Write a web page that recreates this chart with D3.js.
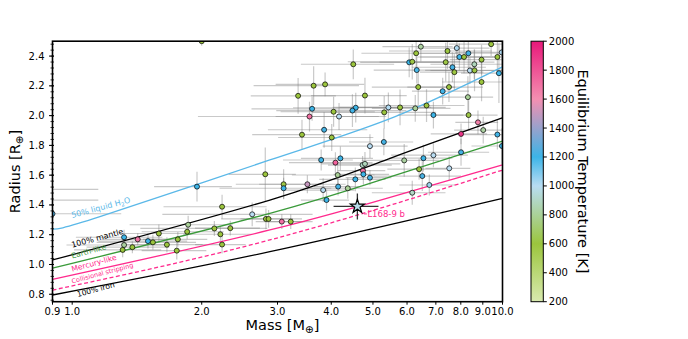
<!DOCTYPE html>
<html><head><meta charset="utf-8">
<script src="https://cdn.jsdelivr.net/npm/d3@7"></script>
<style>body{margin:0;background:#fff}svg{display:block;font-family:"DejaVu Sans",sans-serif}</style>
</head><body><svg id="c" width="688" height="339"></svg>
<script>
// ---------- data ----------
const xTickValues = [0.9, 1, 2, 3, 4, 5, 6, 7, 8, 9, 10];
const yTickValues = [0.8, 1.0, 1.2, 1.4, 1.6, 1.8, 2.0, 2.2, 2.4];
const cbarTickValues = [200, 400, 600, 800, 1000, 1200, 1400, 1600, 1800, 2000];
const cmapTemps = [200, 600, 1000, 1200, 1600, 2000];
const cmapColors = ["#d9eaaf", "#9bc53d", "#b9ddf3", "#3cb4e7", "#f48fb1", "#e8187a"];

const waterMass = [0.9, 1.16, 2.88, 5.63, 10];
const waterRadius = [1.237, 1.321, 1.702, 1.993, 2.327];
const mantleMass = [0.9, 2.88, 5.48, 10];
const mantleRadius = [1.03, 1.433, 1.713, 1.985];
const earthMass = [0.9, 2.88, 5.48, 10];
const earthRadius = [0.975, 1.344, 1.589, 1.829];
const mercuryMass = [0.9, 2.88, 6.26, 10];
const mercuryRadius = [0.90, 1.232, 1.50, 1.67];
const strippingMass = [0.9, 2.88, 10];
const strippingRadius = [0.828, 1.165, 1.634];
const ironMass = [0.9, 2.88, 10];
const ironRadius = [0.795, 1.086, 1.444];

const planetMass = [6.30,6.46,6.07,6.17,6.32,7.45,7.83,8.33,7.94,8.14,7.38,7.65,7.73,8.60,8.40,8.61,8.94,9.41,9.96,9.73,9.81,6.37,7.51,7.26,8.94,8.31,8.34,8.77,9.02,8.01,9.73,9.97,8.01,6.91,6.55,5.91,6.40,7.52,6.51,6.76,6.17,6.91,6.66,6.27,5.78,5.43,5.31,5.30,4.92,4.79,4.50,4.56,4.48,4.17,4.05,3.61,3.56,3.64,3.87,3.35,3.85,3.42,4.01,3.79,4.20,4.09,4.73,4.79,4.74,4.75,4.92,4.55,4.14,4.15,4.37,3.83,3.90,3.52,3.10,3.10,3.07,3.22,1.95,2.81,2.23,2.62,2.82,2.86,1.86,2.14,2.33,1.85,1.59,2.21,1.32,1.42,1.50,1.54,1.76,1.32,1.38,1.31,1.66,2.23,1.75,2.00,0.90,0.60,0.70];
const planetMassErr = [1.6,1.2,1.4,1.8,1.3,2.0,1.5,1.9,1.6,1.7,2.2,1.5,1.3,1.8,1.6,2.0,1.4,1.9,2.2,1.5,1.8,1.4,1.5,1.1,1.7,1.2,1.4,1.0,1.3,1.2,1.6,1.5,1.3,1.4,1.1,1.2,1.0,0.9,1.5,1.0,1.2,1.2,1.5,1.3,1.6,1.4,1.7,0.9,1.1,1.2,1.1,1.3,1.5,1.2,1.0,1.0,1.6,1.0,0.9,0.75,1.0,0.8,1.0,0.7,0.8,0.9,0.8,1.0,0.6,0.7,0.6,0.8,0.9,0.5,0.9,0.7,0.5,0.8,0.7,0.9,0.4,0.4,0.4,0.5,0.6,1.0,0.6,0.4,0.5,0.7,0.4,0.4,0.3,0.4,0.3,0.25,0.35,0.4,0.3,0.35,0.3,0.3,0.35,0.3,0.3,0.85,0.4,0.55,0.45];
const planetRadius = [2.419,2.463,2.358,2.362,2.306,2.434,2.454,2.419,2.394,2.394,2.359,2.325,2.292,2.345,2.303,2.304,2.376,2.480,2.425,2.394,2.285,2.192,2.192,2.164,2.226,2.124,2.004,1.955,1.903,1.877,1.873,1.796,1.754,1.734,1.714,1.699,1.640,1.646,1.594,1.534,1.482,2.004,2.068,2.049,2.055,2.055,2.022,1.823,1.795,2.135,2.345,2.053,2.034,1.994,2.026,2.046,1.994,2.201,2.210,2.133,1.905,1.872,1.853,1.702,1.713,1.684,1.668,1.676,1.630,1.606,1.583,1.572,1.601,1.523,1.512,1.500,1.433,1.539,1.539,1.512,1.288,1.288,1.523,1.606,1.388,1.337,1.306,1.306,1.267,1.242,1.244,1.220,1.208,1.203,1.183,1.169,1.157,1.149,1.169,1.131,1.116,1.098,1.133,1.134,1.093,2.500,1.341,1.505,1.433];
const planetRadiusErr = [0.12,0.10,0.10,0.12,0.09,0.12,0.08,0.10,0.09,0.11,0.13,0.10,0.12,0.10,0.09,0.14,0.10,0.08,0.15,0.12,0.20,0.12,0.10,0.09,0.13,0.14,0.10,0.08,0.09,0.07,0.10,0.12,0.09,0.08,0.09,0.11,0.07,0.08,0.10,0.07,0.08,0.09,0.11,0.09,0.12,0.10,0.11,0.09,0.08,0.12,0.10,0.10,0.11,0.09,0.10,0.08,0.10,0.13,0.08,0.12,0.12,0.10,0.09,0.07,0.08,0.07,0.06,0.08,0.06,0.07,0.05,0.08,0.09,0.06,0.07,0.08,0.07,0.06,0.10,0.07,0.05,0.05,0.10,0.18,0.08,0.08,0.07,0.06,0.06,0.05,0.05,0.05,0.06,0.05,0.05,0.04,0.05,0.05,0.05,0.05,0.04,0.05,0.05,0.06,0.06,0.03,0.04,0.04,0.04];
const planetTeq = [600,820,1200,620,1180,610,1020,1210,1190,600,620,1220,580,880,1000,610,600,590,1020,600,1200,600,610,1210,600,800,620,1650,820,1900,1210,1200,1220,1000,1200,820,600,1000,1230,1050,900,1200,600,800,610,1010,600,1220,1000,600,600,1200,1210,1000,600,1200,1700,600,600,600,1220,600,600,1200,1200,1750,900,880,1700,1200,1220,1200,800,1220,800,1000,1200,1500,620,1200,1700,600,1200,600,600,1000,600,600,800,600,600,600,600,600,1200,1700,1200,600,600,820,600,600,600,600,600,600,1250,1200,1200];

const targetName = "L168-9 b";
const targetMass = [4.60], targetMassErr = [0.55], targetRadius = [1.39], targetRadiusErr = [0.087], targetTeq = [981];

// ---------- layout ----------
const svg = d3.select("#c");
const L = 52.5, R = 502.5, T = 41.2, B = 301.7;
const x = d3.scaleLog().domain([0.9, 10]).range([L, R]);
const y = d3.scaleLinear().domain([0.75, 2.5]).range([B, T]);
const color = d3.scaleLinear().domain(cmapTemps).range(cmapColors).clamp(true);

svg.append("defs").append("clipPath").attr("id", "clip")
  .append("rect").attr("x", L).attr("y", T).attr("width", R - L).attr("height", B - T);
const plot = svg.append("g").attr("clip-path", "url(#clip)");

// error bars
const eb = plot.append("g").attr("stroke", "#7f7f7f").attr("stroke-opacity", 0.42).attr("stroke-width", 1.2);
planetMass.forEach((m, i) => {
  const r = planetRadius[i];
  eb.append("line").attr("x1", x(Math.max(0.05, m - planetMassErr[i]))).attr("x2", x(m + planetMassErr[i]))
    .attr("y1", y(r)).attr("y2", y(r));
  eb.append("line").attr("x1", x(m)).attr("x2", x(m))
    .attr("y1", y(r - planetRadiusErr[i])).attr("y2", y(r + planetRadiusErr[i]));
});

// model curves
const curves = [
  {m: waterMass, r: waterRadius, c: "#5ab8e8", d: null},
  {m: mantleMass, r: mantleRadius, c: "#000000", d: null},
  {m: earthMass, r: earthRadius, c: "#3a9a3a", d: null},
  {m: mercuryMass, r: mercuryRadius, c: "#ff2a8d", d: null},
  {m: strippingMass, r: strippingRadius, c: "#ff2a8d", d: "4,2.5"},
  {m: ironMass, r: ironRadius, c: "#000000", d: null}
];
const line = d3.line().x(d => x(d[0])).y(d => y(d[1])).curve(d3.curveNatural);
curves.forEach(cv => {
  plot.append("path").attr("d", line(cv.m.map((m, i) => [m, cv.r[i]])))
    .attr("fill", "none").attr("stroke", cv.c).attr("stroke-width", 1.3)
    .attr("stroke-dasharray", cv.d);
});

// points
plot.append("g").selectAll("circle").data(planetMass).join("circle")
  .attr("cx", (m) => x(m)).attr("cy", (m, i) => y(planetRadius[i])).attr("r", 2.5)
  .attr("fill", (m, i) => color(planetTeq[i])).attr("stroke", "#000").attr("stroke-width", 0.7);

// target
const tg = plot.append("g");
tg.append("line").attr("x1", x(targetMass[0] - targetMassErr[0])).attr("x2", x(targetMass[0] + targetMassErr[0]))
  .attr("y1", y(targetRadius[0])).attr("y2", y(targetRadius[0])).attr("stroke", "#333").attr("stroke-width", 1.3);
tg.append("line").attr("x1", x(targetMass[0])).attr("x2", x(targetMass[0]))
  .attr("y1", y(targetRadius[0] - targetRadiusErr[0])).attr("y2", y(targetRadius[0] + targetRadiusErr[0]))
  .attr("stroke", "#333").attr("stroke-width", 1.3);
tg.append("path").attr("d", d3.symbol(d3.symbolStar, 60)())
  .attr("transform", `translate(${x(targetMass[0])},${y(targetRadius[0])})`)
  .attr("fill", color(targetTeq[0])).attr("stroke", "#000").attr("stroke-width", 1.2);
tg.append("line").attr("x1", x(targetMass[0]) + 6.5).attr("x2", x(targetMass[0]) + 9.5)
  .attr("y1", y(targetRadius[0]) + 7.5).attr("y2", y(targetRadius[0]) + 7.5).attr("stroke", "#ff2a8d").attr("stroke-width", 1);
tg.append("text").attr("x", x(targetMass[0]) + 10).attr("y", y(targetRadius[0]) + 10.5)
  .attr("font-size", 8.5).attr("fill", "#ff2a8d").text(targetName);

// curve labels
const labels = [
  {t: "50% liquid H", sub: "2", t2: "O", m: 1.0, r: 1.312, c: "#5ab8e8", fs: 8},
  {t: "100% mantle", m: 1.0, r: 1.113, c: "#000", fs: 8},
  {t: "Earth-like", m: 1.0, r: 1.041, c: "#3a9a3a", fs: 7.5},
  {t: "Mercury-like", m: 1.0, r: 0.952, c: "#ff2a8d", fs: 7.6},
  {t: "Collisional stripping", m: 1.0, r: 0.872, c: "#ff2a8d", fs: 6.5},
  {t: "100% iron", m: 1.03, r: 0.782, c: "#000", fs: 7.6}
];
labels.forEach(lb => {
  const tx = svg.append("text").attr("transform", `translate(${x(lb.m)},${y(lb.r)}) rotate(-15)`)
    .attr("font-size", lb.fs).attr("fill", lb.c).text(lb.t);
  if (lb.sub) {
    tx.append("tspan").attr("font-size", lb.fs * 0.7).attr("dy", 2).text(lb.sub);
    tx.append("tspan").attr("dy", -2).text(lb.t2);
  }
});

// axes frame
svg.append("rect").attr("x", L).attr("y", T).attr("width", R - L).attr("height", B - T)
  .attr("fill", "none").attr("stroke", "#000").attr("stroke-width", 1.6);

// y axis
const ya = svg.append("g");
d3.range(0.76, 2.5, 0.04).forEach(v => {
  ya.append("line").attr("x1", L - 2).attr("x2", L + 1.5).attr("y1", y(v)).attr("y2", y(v))
    .attr("stroke", "#000").attr("stroke-width", 0.8);
});
yTickValues.forEach(v => {
  ya.append("line").attr("x1", L - 3.5).attr("x2", L + 1.5).attr("y1", y(v)).attr("y2", y(v))
    .attr("stroke", "#000").attr("stroke-width", 1);
  ya.append("text").attr("x", L - 8).attr("y", y(v)).attr("dy", "0.35em").attr("text-anchor", "end")
    .attr("font-size", 10).text(d3.format(".1f")(v));
});
// x axis
const xa = svg.append("g");
xTickValues.forEach(v => {
  xa.append("line").attr("x1", x(v)).attr("x2", x(v)).attr("y1", B).attr("y2", B + 3)
    .attr("stroke", "#000").attr("stroke-width", 1);
  xa.append("text").attr("x", x(v)).attr("y", B + 13.3).attr("text-anchor", "middle")
    .attr("font-size", 10).text(d3.format(".1f")(v));
});
// axis titles
const xt = svg.append("text").attr("x", (L + R) / 2 + 5).attr("y", 330).attr("text-anchor", "middle").attr("font-size", 14.5).text("Mass [M");
xt.append("tspan").attr("font-size", 10.5).attr("dy", 2.5).text("⊕");
xt.append("tspan").attr("dy", -2.5).text("]");
const yt = svg.append("text").attr("transform", `translate(20,${(T + B) / 2}) rotate(-90)`).attr("text-anchor", "middle").attr("font-size", 14.5).text("Radius [R");
yt.append("tspan").attr("font-size", 10.5).attr("dy", 2.5).text("⊕");
yt.append("tspan").attr("dy", -2.5).text("]");

// colorbar
const cbX = 531, cbW = 12.3;
const cy = d3.scaleLinear().domain([200, 2000]).range([B, T]);
const grad = svg.select("defs").append("linearGradient").attr("id", "cg").attr("x1", 0).attr("x2", 0).attr("y1", 1).attr("y2", 0);
cmapTemps.forEach((t, i) => grad.append("stop").attr("offset", (t - 200) / 1800).attr("stop-color", cmapColors[i]));
svg.append("rect").attr("x", cbX).attr("y", T).attr("width", cbW).attr("height", B - T)
  .attr("fill", "url(#cg)").attr("stroke", "#000").attr("stroke-width", 1);
cbarTickValues.forEach(v => {
  svg.append("line").attr("x1", cbX + cbW).attr("x2", cbX + cbW + 3.5).attr("y1", cy(v)).attr("y2", cy(v)).attr("stroke", "#000");
  svg.append("text").attr("x", cbX + cbW + 5.5).attr("y", cy(v)).attr("dy", "0.35em").attr("font-size", 10).text(v);
});
svg.append("text").attr("transform", `translate(578,${(T + B) / 2}) rotate(90)`).attr("text-anchor", "middle")
  .attr("font-size", 14.5).text("Equilibrium Temperature [K]");
</script></body></html>
